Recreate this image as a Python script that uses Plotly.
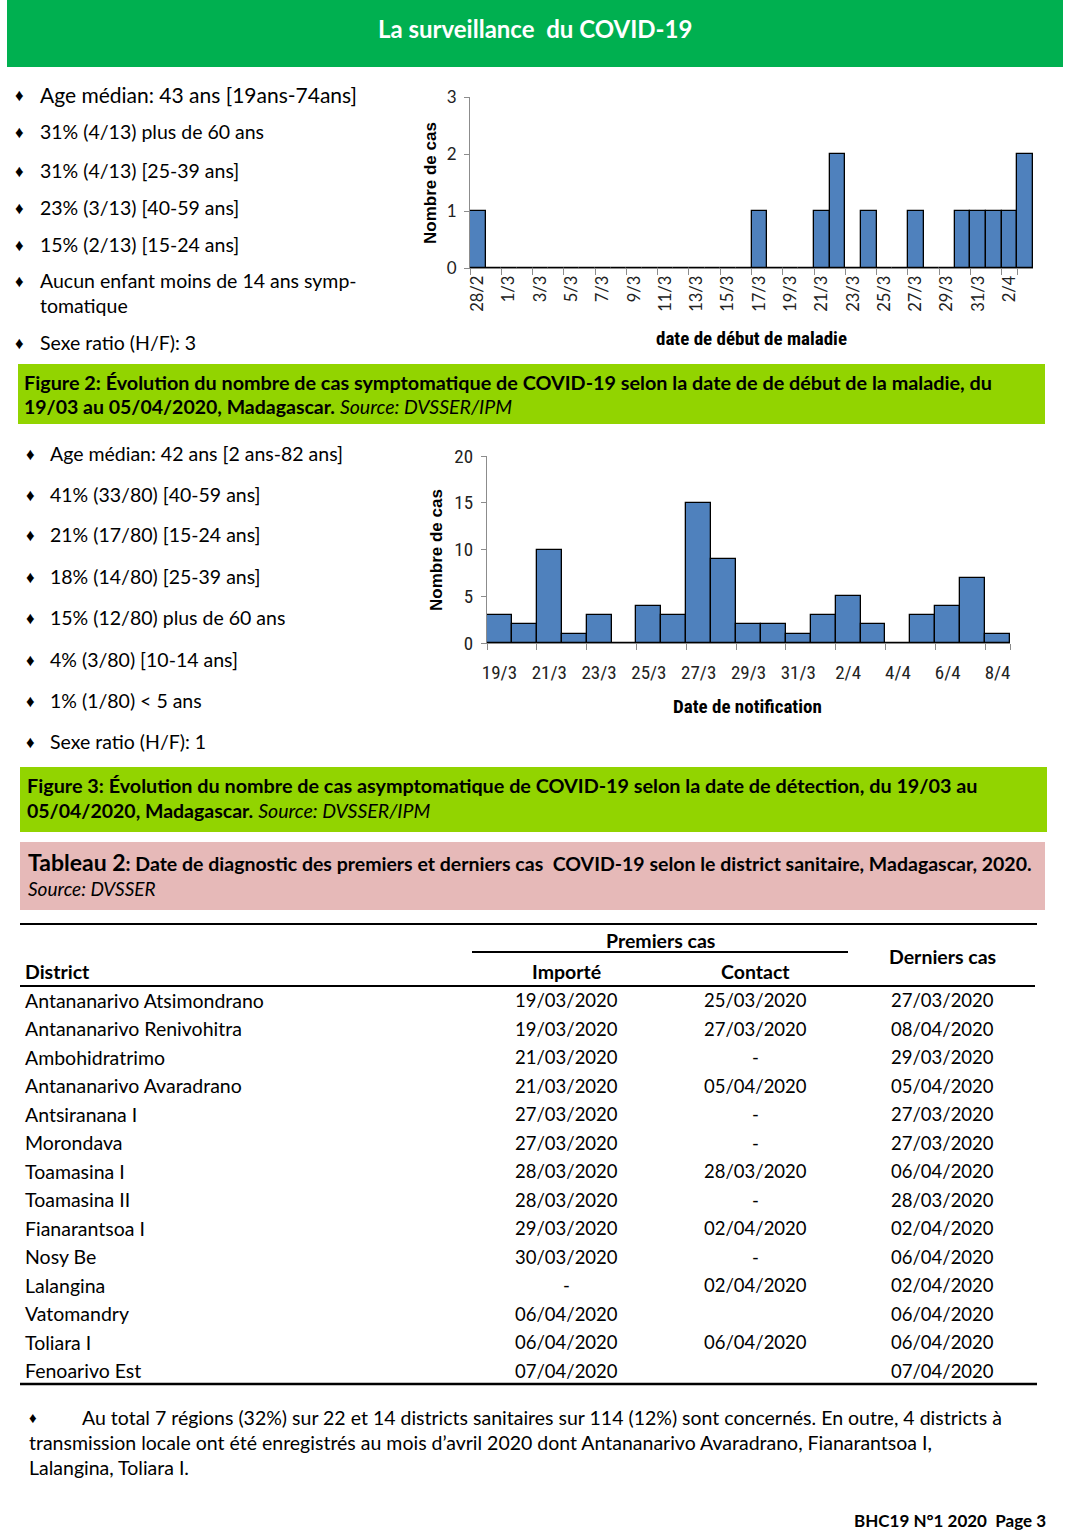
import plotly.graph_objects as go

W, H = 1080, 1537
FONT = "Lato, 'Noto Sans', sans-serif"
NARROW = "'Liberation Sans Narrow', 'Roboto Condensed', Lato, sans-serif"

# ---------------- data ----------------
onset_dates = ["28/2", "29/2", "1/3", "2/3", "3/3", "4/3", "5/3", "6/3", "7/3", "8/3",
               "9/3", "10/3", "11/3", "12/3", "13/3", "14/3", "15/3", "16/3", "17/3", "18/3",
               "19/3", "20/3", "21/3", "22/3", "23/3", "24/3", "25/3", "26/3", "27/3", "28/3",
               "29/3", "30/3", "31/3", "1/4", "2/4", "3/4"]
onset_cases = [1, 0, 0, 0, 0, 0, 0, 0, 0, 0,
               0, 0, 0, 0, 0, 0, 0, 0, 1, 0,
               0, 0, 1, 2, 0, 1, 0, 0, 1, 0,
               0, 1, 1, 1, 1, 2]

notif_dates = ["19/3", "20/3", "21/3", "22/3", "23/3", "24/3", "25/3", "26/3", "27/3", "28/3",
               "29/3", "30/3", "31/3", "1/4", "2/4", "3/4", "4/4", "5/4", "6/4", "7/4", "8/4"]
notif_cases = [3, 2, 10, 1, 3, 0, 4, 3, 15, 9, 2, 2, 1, 3, 5, 2, 0, 3, 4, 7, 1]

list1 = ["Age médian: 43 ans [19ans-74ans]",
         "31% (4/13) plus de 60 ans",
         "31% (4/13) [25-39 ans]",
         "23% (3/13) [40-59 ans]",
         "15% (2/13) [15-24 ans]",
         "Aucun enfant moins de 14 ans symp-<br>tomatique",
         "Sexe ratio (H/F): 3"]

list2 = ["Age médian: 42 ans [2 ans-82 ans]",
         "41% (33/80) [40-59 ans]",
         "21% (17/80) [15-24 ans]",
         "18% (14/80) [25-39 ans]",
         "15% (12/80) plus de 60 ans",
         "4% (3/80) [10-14 ans]",
         "1% (1/80) < 5 ans",
         "Sexe ratio (H/F): 1"]

districts = ["Antananarivo Atsimondrano", "Antananarivo Renivohitra", "Ambohidratrimo",
             "Antananarivo Avaradrano", "Antsiranana I", "Morondava", "Toamasina I",
             "Toamasina II", "Fianarantsoa I", "Nosy Be", "Lalangina", "Vatomandry",
             "Toliara I", "Fenoarivo Est"]
importe = ["19/03/2020", "19/03/2020", "21/03/2020", "21/03/2020", "27/03/2020", "27/03/2020",
           "28/03/2020", "28/03/2020", "29/03/2020", "30/03/2020", "-", "06/04/2020",
           "06/04/2020", "07/04/2020"]
contact = ["25/03/2020", "27/03/2020", "-", "05/04/2020", "-", "-", "28/03/2020", "-",
           "02/04/2020", "-", "02/04/2020", "", "06/04/2020", ""]
derniers = ["27/03/2020", "08/04/2020", "29/03/2020", "05/04/2020", "27/03/2020", "27/03/2020",
            "06/04/2020", "28/03/2020", "02/04/2020", "06/04/2020", "02/04/2020", "06/04/2020",
            "06/04/2020", "07/04/2020"]


def X(p):
    return p / W


def Y(p):
    return 1 - p / H


annotations = []
shapes = []


def text(t, x, y, size=18, color="black", family=FONT, xanchor="left", yanchor="middle", angle=0,
         align="left"):
    annotations.append(dict(text=t, x=X(x), y=Y(y), xref="paper", yref="paper", showarrow=False,
                            xanchor=xanchor, yanchor=yanchor, textangle=angle, align=align,
                            font=dict(size=size, color=color, family=family)))


def rect(x0, y0, x1, y1, color):
    shapes.append(dict(type="rect", xref="paper", yref="paper", x0=X(x0), x1=X(x1), y0=Y(y1), y1=Y(y0),
                       fillcolor=color, line=dict(width=0), layer="below"))


def hline(x0, x1, y, w=2, color="black"):
    shapes.append(dict(type="line", xref="paper", yref="paper", x0=X(x0), x1=X(x1), y0=Y(y), y1=Y(y),
                       line=dict(width=w, color=color)))


fig = go.Figure()

BAR = "#4F81BD"
fig.add_trace(go.Bar(x=onset_dates, y=onset_cases, marker=dict(color=BAR, line=dict(color="black", width=1.3)),
                     xaxis="x", yaxis="y", showlegend=False))
fig.add_trace(go.Bar(x=notif_dates, y=notif_cases, marker=dict(color=BAR, line=dict(color="black", width=1.3)),
                     xaxis="x2", yaxis="y2", showlegend=False))

AX = "#8C8C8C"
fig.update_layout(
    width=W, height=H, margin=dict(l=0, r=0, t=0, b=0, autoexpand=False),
    paper_bgcolor="white", plot_bgcolor="white", bargap=0,
    xaxis=dict(domain=[X(470), X(1033)], anchor="y", type="category", showline=True, linecolor=AX,
               linewidth=1.2, ticks="outside", tickson="boundaries", ticklen=6, tickcolor=AX,
               tickmode="array", tickvals=onset_dates[::2], tickangle=-90, showgrid=False, automargin=False,
               tickfont=dict(size=16.5, family=FONT, color="#222"), range=[-0.5, len(onset_dates) - 0.5]),
    yaxis=dict(domain=[Y(268), Y(97)], anchor="x", range=[0, 3], dtick=1, showline=True, linecolor=AX,
               linewidth=1.2, ticks="outside", ticklen=5, tickcolor=AX, showgrid=False, zeroline=False,
               ticklabelstandoff=4, automargin=False,
               tickfont=dict(size=17, family=FONT, color="#222")),
    xaxis2=dict(domain=[X(487), X(1010)], anchor="y2", type="category", showline=True, linecolor=AX,
                linewidth=1.2, ticks="outside", tickson="boundaries", ticklen=6, tickcolor=AX,
                tickmode="array", tickvals=notif_dates[::2], tickangle=0, showgrid=False,
                ticklabelstandoff=12, automargin=False,
                tickfont=dict(size=19, family=NARROW, color="#222"), range=[-0.5, len(notif_dates) - 0.5]),
    yaxis2=dict(domain=[Y(643), Y(456)], anchor="x2", range=[0, 20], dtick=5, showline=True, linecolor=AX,
                linewidth=1.2, ticks="outside", ticklen=5, tickcolor=AX, showgrid=False, zeroline=False,
                ticklabelstandoff=4, automargin=False,
                tickfont=dict(size=19, family=NARROW, color="#222")),
)

# ---------------- header ----------------
rect(7, 0, 1063, 67, "#00B050")
text("<b>La surveillance  du COVID-19</b>", 535, 29, size=24, color="white", xanchor="center")

# ---------------- list 1 ----------------
ys1 = [95, 132, 170, 207, 244, 293, 342]
for i, (t, y) in enumerate(zip(list1, ys1)):
    bullet_y = 280 if i == 5 else y
    text("♦", 19, bullet_y, size=17, xanchor="center")
    text(t, 38, y, size=21 if i == 0 else 19.5)

# chart 1 titles
text("<b>Nombre de cas</b>", 430, 183, size=17, family="'Liberation Sans', Arial", angle=-90, xanchor="center")
text("<b>date de début de maladie</b>", 751, 338, size=19, family=NARROW, xanchor="center")

# ---------------- Figure 2 caption ----------------
rect(18, 364, 1045, 424, "#92D400")
text("<b>Figure 2: Évolution du nombre de cas symptomatique de COVID-19 selon la date de de début de la maladie, du</b>",
     22, 382, size=19.8)
text("<b>19/03 au 05/04/2020, Madagascar.</b> <i>Source: DVSSER/IPM</i>", 22, 407, size=19.5)

# ---------------- list 2 ----------------
ys2 = [453, 494, 535, 576, 617, 659, 700, 741]
for t, y in zip(list2, ys2):
    text("♦", 30, y, size=17, xanchor="center")
    text(t, 48, y, size=19.5)

text("<b>Nombre de cas</b>", 437, 550, size=17, family="'Liberation Sans', Arial", angle=-90, xanchor="center")
text("<b>Date de notification</b>", 748, 707, size=19, family=NARROW, xanchor="center")

# ---------------- Figure 3 caption ----------------
rect(20, 767, 1047, 832, "#92D400")
text("<b>Figure 3: Évolution du nombre de cas asymptomatique de COVID-19 selon la date de détection, du 19/03 au</b>",
     25, 785, size=19.8)
text("<b>05/04/2020, Madagascar.</b> <i>Source: DVSSER/IPM</i>", 25, 810, size=19.5)

# ---------------- Tableau 2 caption ----------------
rect(20, 842, 1045, 910, "#E6B9B8")
text("<b><span style='font-size:23px'>Tableau 2</span>: Date de diagnostic des premiers et derniers cas  COVID-19 selon le district sanitaire, Madagascar, 2020.</b>",
     26, 862, size=19.5)
text("<i>Source: DVSSER</i>", 26, 888, size=19)

# ---------------- table ----------------
hline(20, 1037, 924, w=2.2)
text("<b>Premiers cas</b>", 660, 940, size=19.5, xanchor="center")
hline(472, 848, 952, w=1.8)
text("<b>Derniers cas</b>", 942, 956, size=19.5, xanchor="center")
text("<b>District</b>", 23, 972, size=19.5)
text("<b>Importé</b>", 566, 972, size=19.5, xanchor="center")
text("<b>Contact</b>", 755, 972, size=19.5, xanchor="center")
hline(20, 1035, 986, w=2.2)

row0, step = 1000, 28.5
for i, (d, a, c, l) in enumerate(zip(districts, importe, contact, derniers)):
    y = row0 + i * step
    text(d, 23, y, size=19.5)
    text(a, 566, y, size=18.5, xanchor="center")
    text(c, 755, y, size=18.5, xanchor="center")
    text(l, 942, y, size=18.5, xanchor="center")
hline(20, 1037, 1384, w=2.6)

# ---------------- footnote ----------------
text("♦", 33, 1417, size=15, xanchor="center")
text("Au total 7 régions (32%) sur 22 et 14 districts sanitaires sur 114 (12%) sont concernés. En outre, 4 districts à",
     80, 1417, size=19.5)
text("transmission locale ont été enregistrés au mois d’avril 2020 dont Antananarivo Avaradrano, Fianarantsoa I,",
     27, 1442, size=19.5)
text("Lalangina, Toliara I.", 27, 1467, size=19.5)

text("<b>BHC19 N°1 2020  Page 3</b>", 1048, 1520, size=17, xanchor="right")

fig.update_layout(annotations=annotations, shapes=shapes)
fig.write_html("out.html", config={"displayModeBar": False, "responsive": False},
               post_script="var s=document.documentElement.style;s.margin='0';s.padding='0';"
                           "s.overflow='hidden';s.width='1080px';s.height='1537px';"
                           "var b=document.body.style;b.margin='0';b.padding='0';b.overflow='hidden';"
                           "b.width='1080px';b.height='1537px';")
